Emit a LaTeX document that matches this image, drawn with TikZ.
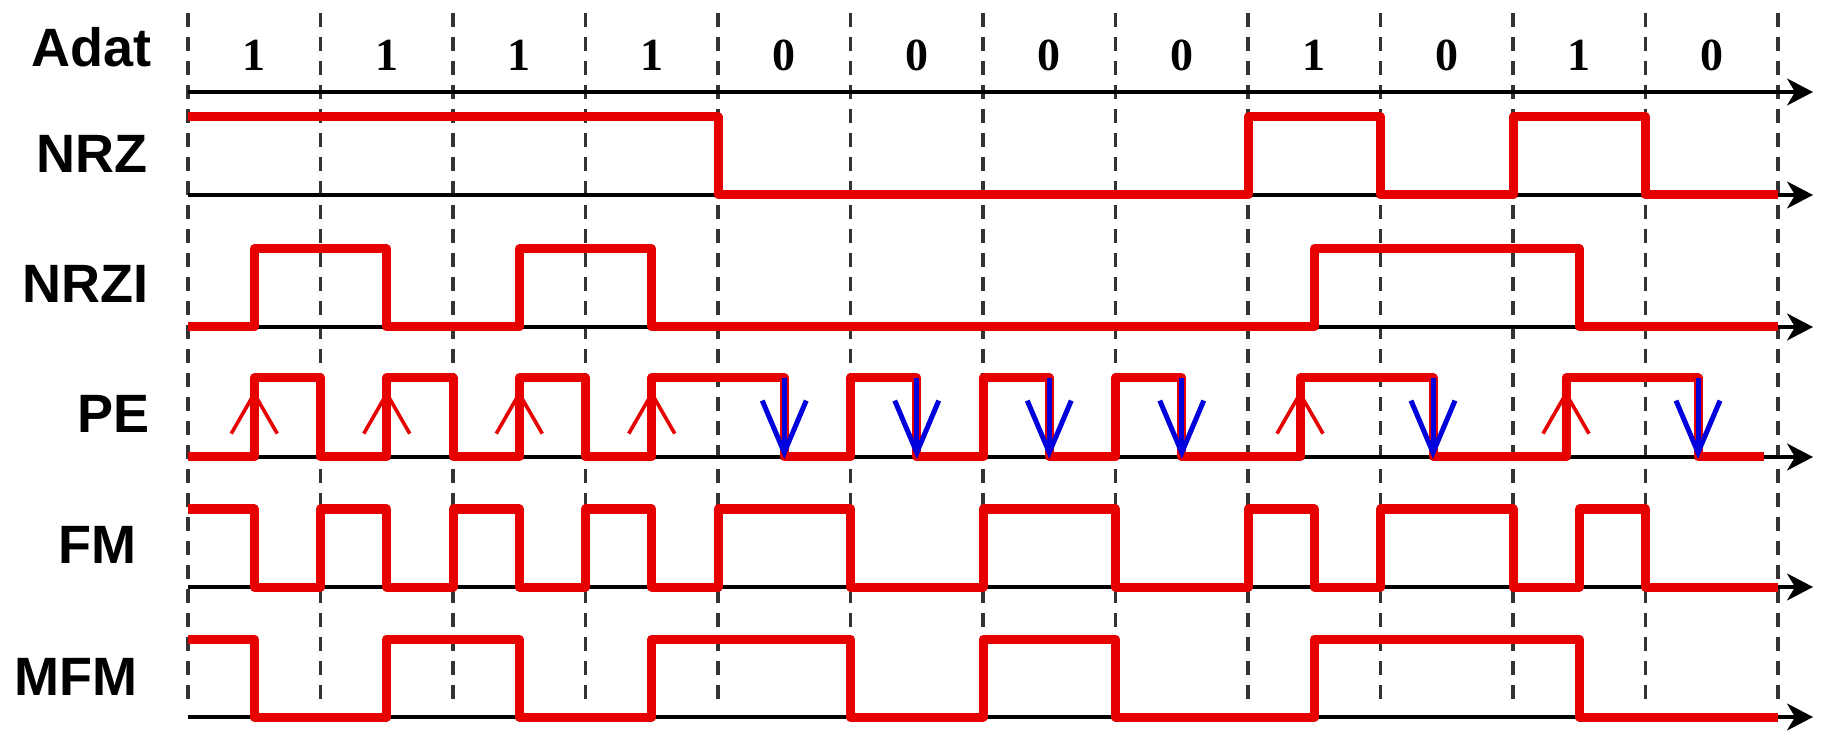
\documentclass[tikz,border=0pt]{standalone}
\usepackage{fontspec}
\newfontfamily\labfont{Liberation Sans}
\newfontfamily\digfont{Liberation Serif}
\usetikzlibrary{arrows.meta}
\definecolor{sigred}{RGB}{230,0,0}
\definecolor{arrblue}{RGB}{0,0,220}
\definecolor{gridgray}{RGB}{50,50,50}
\tikzset{
  gridline/.style={dash pattern=on 7pt off 5pt, line width=1.8pt, gridgray},
  axisline/.style={line width=1.6pt, -{Stealth[length=13pt,width=13.5pt,inset=4pt]}},
  sig/.style={sigred, line width=4.5pt, line join=round},
  uparr/.style={sigred, line width=1.8pt, -{Straight Barb[length=20pt,width=23pt,line width=1.8pt]}},
  downarr/.style={arrblue, line width=2.5pt, -{Straight Barb[length=26pt,width=22pt,line width=2.5pt]}},
  lab/.style={anchor=base east, inner sep=0pt, font=\labfont\bfseries\fontsize{27}{30}\selectfont},
  bit/.style={anchor=base, inner sep=0pt, font=\digfont\bfseries\fontsize{23}{26}\selectfont},
}
\begin{document}
\begin{tikzpicture}[x=0.5pt,y=-0.5pt]
\fill[white] (0,0) rectangle (1826,732);
\useasboundingbox (0,0) rectangle (1826,732);
% grid
\foreach \i in {0,...,12} \draw[gridline] ({188+132.5*\i},13) -- ({188+132.5*\i},705);
% axes
\foreach \y in {92,195,327,457,587,717} \draw[axisline] (188,\y) -- (1813,\y);
% labels
\node[lab] (lAdat) at (152,67) {Adat};
\node[lab] (lNRZ) at (148,173) {NRZ};
\node[lab] (lNRZI) at (149,303) {NRZI};
\node[lab] (lPE) at (150,433) {PE};
\node[lab] (lFM) at (137,563) {FM};
\node[lab] (lMFM) at (138,695) {MFM};
% bits
\foreach \b [count=\k from 0] in {1,1,1,1,0,0,0,0,1,0,1,0}
  \node[bit] (bit\k) at ({254.25+132.5*\k},71) {\b};
% NRZ
\draw[sig] (188,117) -- (718,117) -- (718,195) -- (1248,195) -- (1248,117) -- (1380.5,117) -- (1380.5,195) -- (1513,195) -- (1513,117) -- (1645.5,117) -- (1645.5,195) -- (1778,195);
% NRZI
\draw[sig] (188,327) -- (254.25,327) -- (254.25,249) -- (386.75,249) -- (386.75,327) -- (519.25,327) -- (519.25,249) -- (651.75,249) -- (651.75,327) -- (1314.25,327) -- (1314.25,249) -- (1579.25,249) -- (1579.25,327) -- (1778,327);
% PE
\draw[sig] (188,457) -- (254.25,457) -- (254.25,378) -- (320.5,378) -- (320.5,457) -- (386.75,457) -- (386.75,378) -- (453,378) -- (453,457) -- (519.25,457) -- (519.25,378) -- (585.5,378) -- (585.5,457) -- (651.75,457) -- (651.75,378) -- (784.25,378) -- (784.25,457) -- (850.5,457) -- (850.5,378) -- (916.75,378) -- (916.75,457) -- (983,457) -- (983,378) -- (1049.25,378) -- (1049.25,457) -- (1115.5,457) -- (1115.5,378) -- (1181.75,378) -- (1181.75,457) -- (1300,457) -- (1300,378) -- (1433,378) -- (1433,457) -- (1566,457) -- (1566,378) -- (1698,378) -- (1698,457) -- (1764,457);
\foreach \x in {254.25,386.75,519.25,651.75,1300,1566} \draw[uparr] (\x,457) -- (\x,390);
\foreach \x in {784.25,916.75,1049.25,1181.75,1433,1698} \draw[downarr] (\x,378) -- (\x,459);
% FM
\draw[sig] (188,509) -- (254.25,509) -- (254.25,587) -- (320.5,587) -- (320.5,509) -- (386.75,509) -- (386.75,587) -- (453,587) -- (453,509) -- (519.25,509) -- (519.25,587) -- (585.5,587) -- (585.5,509) -- (651.75,509) -- (651.75,587) -- (718,587) -- (718,509) -- (850.5,509) -- (850.5,587) -- (983,587) -- (983,509) -- (1115.5,509) -- (1115.5,587) -- (1248,587) -- (1248,509) -- (1314.25,509) -- (1314.25,587) -- (1380.5,587) -- (1380.5,509) -- (1513,509) -- (1513,587) -- (1579.25,587) -- (1579.25,509) -- (1645.5,509) -- (1645.5,587) -- (1778,587);
% MFM
\draw[sig] (188,639) -- (254.25,639) -- (254.25,717) -- (386.75,717) -- (386.75,639) -- (519.25,639) -- (519.25,717) -- (651.75,717) -- (651.75,639) -- (850.5,639) -- (850.5,717) -- (983,717) -- (983,639) -- (1115.5,639) -- (1115.5,717) -- (1314.25,717) -- (1314.25,639) -- (1579.25,639) -- (1579.25,717) -- (1778,717);
\end{tikzpicture}
\end{document}
